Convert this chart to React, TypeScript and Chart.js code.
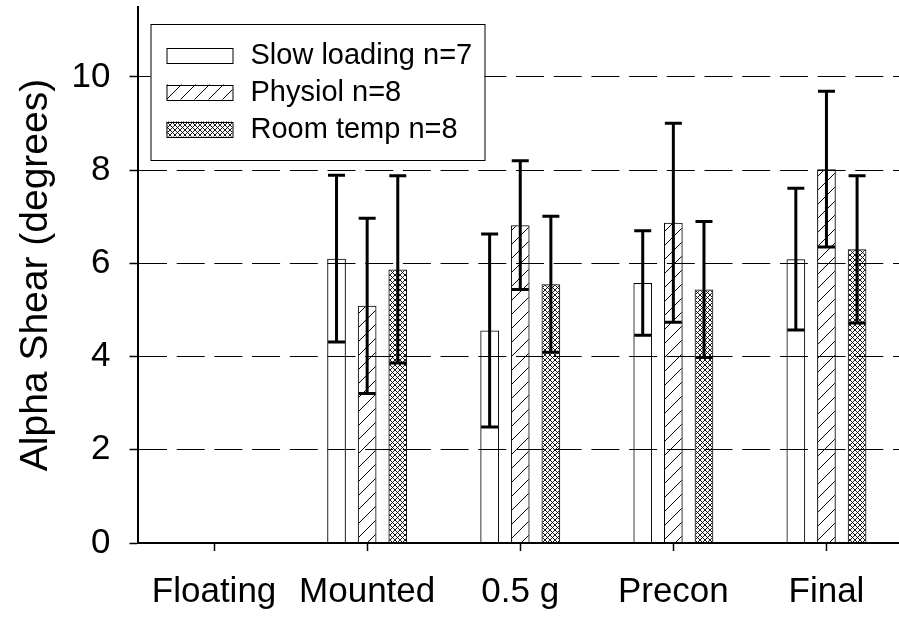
import { useEffect, useRef } from "react";
import { Chart, registerables } from "chart.js";

Chart.register(...registerables);

// Loading stages along the x axis
const categories = ["Floating", "Mounted", "0.5 g", "Precon", "Final"];

// Mean alpha shear (degrees) and standard deviation per group
const slowMean = [null, 6.1, 4.56, 5.58, 6.09];
const slowSd = [null, 1.79, 2.07, 1.12, 1.52];
const physiolMean = [null, 5.09, 6.82, 6.87, 8.02];
const physiolSd = [null, 1.88, 1.38, 2.135, 1.67];
const roomMean = [null, 5.87, 5.55, 5.44, 6.3];
const roomSd = [null, 2.01, 1.46, 1.46, 1.58];

const seriesLabels = ["Slow loading n=7", "Physiol n=8", "Room temp n=8"];

const yTicks = [0, 2, 4, 6, 8, 10];
const yMax = 11.5;
const yTitle = "Alpha Shear (degrees)";

const FONT = "'Liberation Sans', Arial, Helvetica, sans-serif";

function makeHatch(): CanvasPattern | string {
  const c = document.createElement("canvas");
  const s = 14;
  c.width = s;
  c.height = s;
  const g = c.getContext("2d");
  if (!g) return "transparent";
  g.strokeStyle = "#000";
  g.lineWidth = 1;
  g.beginPath();
  g.moveTo(0, s);
  g.lineTo(s, 0);
  g.moveTo(-2, 2);
  g.lineTo(2, -2);
  g.moveTo(s - 2, s + 2);
  g.lineTo(s + 2, s - 2);
  g.stroke();
  return g.createPattern(c, "repeat") || "transparent";
}

function makeCrossHatch(): CanvasPattern | string {
  const c = document.createElement("canvas");
  const s = 5;
  c.width = s;
  c.height = s;
  const g = c.getContext("2d");
  if (!g) return "transparent";
  g.strokeStyle = "#000";
  g.lineWidth = 0.9;
  g.beginPath();
  g.moveTo(0, 0);
  g.lineTo(s, s);
  g.moveTo(0, s);
  g.lineTo(s, 0);
  g.stroke();
  return g.createPattern(c, "repeat") || "transparent";
}

const sdSets = [slowSd, physiolSd, roomSd];

// Vertical error bars (mean ± SD) with flat caps, drawn on top of the bars
const errorBarPlugin = {
  id: "errorBars",
  afterDatasetsDraw(chart: any) {
    const ctx: CanvasRenderingContext2D = chart.ctx;
    const yScale = chart.scales.y;
    ctx.save();
    ctx.strokeStyle = "#000";
    ctx.lineWidth = 3;
    ctx.lineCap = "butt";
    chart.data.datasets.forEach((ds: any, di: number) => {
      const meta = chart.getDatasetMeta(di);
      meta.data.forEach((bar: any, i: number) => {
        const m = ds.data[i];
        const sd = sdSets[di][i];
        if (m == null || sd == null) return;
        const x = bar.x;
        const yTop = yScale.getPixelForValue(m + sd);
        const yBot = yScale.getPixelForValue(m - sd);
        const half = 8.5;
        ctx.beginPath();
        ctx.moveTo(x, yTop);
        ctx.lineTo(x, yBot);
        ctx.moveTo(x - half, yTop);
        ctx.lineTo(x + half, yTop);
        ctx.moveTo(x - half, yBot);
        ctx.lineTo(x + half, yBot);
        ctx.stroke();
      });
    });
    ctx.restore();
  },
};

// Boxed legend placed inside the plot area, top left
const boxLegendPlugin = {
  id: "boxLegend",
  afterDraw(chart: any) {
    const ctx: CanvasRenderingContext2D = chart.ctx;
    const area = chart.chartArea;
    const bx = area.left + 13;
    const by = area.top + 17;
    const bw = 334;
    const bh = 136;
    ctx.save();
    ctx.fillStyle = "#fff";
    ctx.fillRect(bx, by, bw, bh);
    ctx.strokeStyle = "#000";
    ctx.lineWidth = 1;
    ctx.strokeRect(bx + 0.5, by + 0.5, bw, bh);
    ctx.font = `29px ${FONT}`;
    ctx.textBaseline = "middle";
    ctx.textAlign = "left";
    chart.data.datasets.forEach((ds: any, i: number) => {
      const cy = by + 31 + i * 37;
      const sx = bx + 16;
      const sw = 66;
      const sh = 15;
      ctx.fillStyle = ds.backgroundColor;
      ctx.fillRect(sx, cy - sh / 2, sw, sh);
      ctx.strokeStyle = "#000";
      ctx.lineWidth = 1;
      ctx.strokeRect(sx + 0.5, Math.round(cy - sh / 2) + 0.5, sw, sh);
      ctx.fillStyle = "#000";
      ctx.fillText(ds.label, bx + 100, cy + 1);
    });
    ctx.restore();
  },
};

export default function App() {
  const canvasRef = useRef<HTMLCanvasElement | null>(null);

  useEffect(() => {
    document.body.style.margin = "0";
    document.body.style.overflow = "hidden";
    const canvas = canvasRef.current;
    if (!canvas) return;
    Chart.defaults.font.family = FONT;
    Chart.defaults.color = "#000";

    const hatch = makeHatch();
    const cross = makeCrossHatch();

    const chart = new Chart(canvas, {
      type: "bar",
      data: {
        labels: categories,
        datasets: [
          {
            label: seriesLabels[0],
            data: slowMean,
            backgroundColor: "rgba(255,255,255,0)",
            borderColor: "#000",
            borderWidth: 1,
          },
          {
            label: seriesLabels[1],
            data: physiolMean,
            backgroundColor: hatch as any,
            borderColor: "#000",
            borderWidth: 1,
          },
          {
            label: seriesLabels[2],
            data: roomMean,
            backgroundColor: cross as any,
            borderColor: "#000",
            borderWidth: 1,
          },
        ],
      },
      options: {
        responsive: false,
        animation: false,
        devicePixelRatio: 1,
        categoryPercentage: 0.6,
        barPercentage: 0.61,
        layout: { padding: { top: 7, left: 0, right: 0, bottom: 0 } },
        plugins: {
          legend: { display: false },
          tooltip: { enabled: false },
        },
        scales: {
          x: {
            grid: {
              display: true,
              offset: false,
              drawOnChartArea: false,
              drawTicks: true,
              tickLength: 8,
              tickColor: "#000",
              tickWidth: 1.5,
            },
            border: { display: true, color: "#000", width: 2 },
            ticks: {
              color: "#000",
              font: { size: 35 },
              padding: 20,
              maxRotation: 0,
              autoSkip: false,
            },
            afterFit: (s: any) => {
              s.height = 74;
              s.paddingLeft = 0;
              s.paddingRight = 0;
            },
          },
          y: {
            min: 0,
            max: yMax,
            afterBuildTicks: (s: any) => {
              s.ticks = yTicks.map((v) => ({ value: v }));
            },
            grid: {
              color: (c: any) => (c.tick && c.tick.value === 0 ? "rgba(0,0,0,0)" : "#000"),
              lineWidth: 1,
              tickLength: 8,
              tickColor: "#000",
              tickWidth: 1.5,
              tickBorderDash: [],
            },
            border: { display: true, color: "#000", width: 2, dash: [28, 9.7] },
            ticks: {
              color: "#000",
              font: { size: 35 },
              padding: 19,
            },
            title: {
              display: true,
              text: yTitle,
              color: "#000",
              font: { size: 39 },
              padding: { top: 13, bottom: 0 },
            },
            afterFit: (s: any) => {
              s.width = 137.5;
              s.paddingTop = 0;
              s.paddingBottom = 0;
            },
          },
        },
      } as any,
      plugins: [errorBarPlugin, boxLegendPlugin],
    });

    return () => {
      chart.destroy();
    };
  }, []);

  return (
    <div style={{ width: 899, height: 617, overflow: "hidden", background: "#fff" }}>
      <canvas ref={canvasRef} width={903} height={617} style={{ display: "block" }} />
    </div>
  );
}
